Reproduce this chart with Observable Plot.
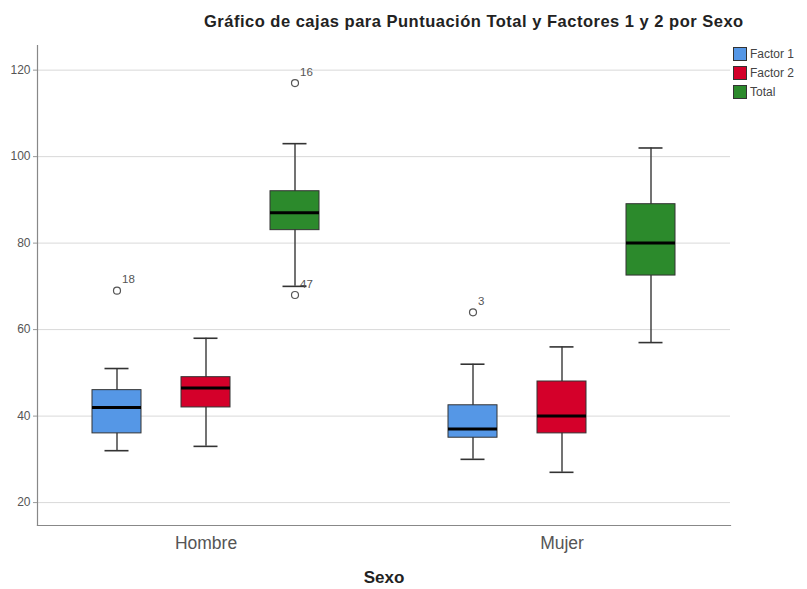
<!DOCTYPE html>
<html>
<head>
<meta charset="utf-8">
<script src="https://cdn.jsdelivr.net/npm/d3@7"></script>
<script src="https://cdn.jsdelivr.net/npm/@observablehq/plot@0.6"></script>
<style>
  body { margin: 0; background: #fff; font-family: "Liberation Sans", Arial, sans-serif; }
  #wrap { position: relative; width: 807px; height: 589px; }
  #title { position: absolute; top: 12px; left: 204px; white-space: nowrap; font-size: 16.5px; letter-spacing: 0.5px; font-weight: bold; color: #222; }
  #legend { position: absolute; left: 733px; top: 44px; font-size: 12px; color: #444; }
  .item { display: flex; align-items: center; height: 19px; }
  .sw { width: 14px; height: 14px; border: 1px solid #333; margin-right: 3px; box-sizing: border-box; }
  svg { position: absolute; top: 0; left: 0; }
</style>
</head>
<body>
<div id="wrap">
  <div id="title">Gráfico de cajas para Puntuación Total y Factores 1 y 2 por Sexo</div>
  <div id="legend"></div>
</div>
<script>
const sexos = ["Hombre", "Mujer"];
const factores = ["Factor 1", "Factor 2", "Total"];
const colores = ["#5597e6", "#d4002a", "#2c8a2c"];

const boxSexo   = ["Hombre", "Hombre", "Hombre", "Mujer", "Mujer", "Mujer"];
const boxFactor = ["Factor 1", "Factor 2", "Total", "Factor 1", "Factor 2", "Total"];
const whiskerLow  = [32, 33, 70, 30, 27, 57];
const q1          = [36, 42, 83, 35, 36, 72.5];
const medianas    = [42, 46.5, 87, 37, 40, 80];
const q3          = [46, 49, 92, 42.5, 48, 89];
const whiskerHigh = [51, 58, 103, 52, 56, 102];

const outSexo   = ["Hombre", "Hombre", "Hombre", "Mujer"];
const outFactor = ["Factor 1", "Total", "Total", "Factor 1"];
const outValor  = [69, 117, 68, 64];
const outEtiqueta = ["18", "16", "47", "3"];

const yTicks = [20, 40, 60, 80, 100, 120];

const key = (s, f) => s + " · " + f;
// band domain: the three factors of each sex, with an empty slot between the two groups
const xDomain = [...factores.map(f => key(sexos[0], f)), "", ...factores.map(f => key(sexos[1], f))];

const boxes = boxSexo.map((s, i) => ({
  k: key(s, boxFactor[i]), factor: boxFactor[i],
  lo: whiskerLow[i], q1: q1[i], med: medianas[i], q3: q3[i], hi: whiskerHigh[i]
}));
const outliers = outSexo.map((s, i) => ({ k: key(s, outFactor[i]), v: outValor[i], label: outEtiqueta[i] }));
const groupLabels = sexos.map(s => ({ k: key(s, factores[1]), label: s }));

const chart = Plot.plot({
  width: 807,
  height: 589,
  marginTop: 45,
  marginLeft: 37,
  marginRight: 77,
  marginBottom: 64,
  style: { fontFamily: "Liberation Sans, Arial, sans-serif", background: "transparent" },
  x: { type: "band", domain: xDomain, paddingInner: 0.453, paddingOuter: 0.594, axis: null },
  y: { domain: [14.7, 125.7], label: null },
  color: { domain: factores, range: colores },
  marks: [
    Plot.ruleY(yTicks, { stroke: "#d9d9d9", strokeWidth: 1 }),
    Plot.frame({ anchor: "left", stroke: "#888", strokeWidth: 1.2 }),
    Plot.frame({ anchor: "bottom", stroke: "#888", strokeWidth: 1.2 }),
    Plot.axisY({ ticks: yTicks, tickSize: 4, tickPadding: 3, fontSize: 12, color: "#555", stroke: "#999" }),
    Plot.text(groupLabels, { x: "k", text: "label", frameAnchor: "bottom", dy: 23, fontSize: 17.5, fill: "#555" }),
    Plot.ruleX(boxes, { x: "k", y1: "lo", y2: "hi", stroke: "#444", strokeWidth: 1.5 }),
    Plot.tickY(boxes, { x: "k", y: "lo", insetLeft: 12.5, insetRight: 12.5, stroke: "#333", strokeWidth: 1.6 }),
    Plot.tickY(boxes, { x: "k", y: "hi", insetLeft: 12.5, insetRight: 12.5, stroke: "#333", strokeWidth: 1.6 }),
    Plot.barY(boxes, { x: "k", y1: "q1", y2: "q3", fill: "factor", stroke: "#333", strokeWidth: 1 }),
    Plot.tickY(boxes, { x: "k", y: "med", stroke: "#000", strokeWidth: 3 }),
    Plot.dot(outliers, { x: "k", y: "v", r: 3.5, stroke: "#555", strokeWidth: 1.2, fill: "white" }),
    Plot.text(outliers, { x: "k", y: "v", text: "label", dx: 5, dy: -11, textAnchor: "start", fontSize: 11.5, fill: "#555" }),
    Plot.text(["Sexo"], { frameAnchor: "bottom", dy: 57, fontSize: 17, fontWeight: "bold", fill: "#222" })
  ]
});

document.getElementById("wrap").appendChild(chart);

const legend = document.getElementById("legend");
factores.forEach((f, i) => {
  const it = document.createElement("div");
  it.className = "item";
  it.innerHTML = `<div class="sw" style="background:${colores[i]}"></div><span>${f}</span>`;
  legend.appendChild(it);
});
</script>
</body>
</html>
